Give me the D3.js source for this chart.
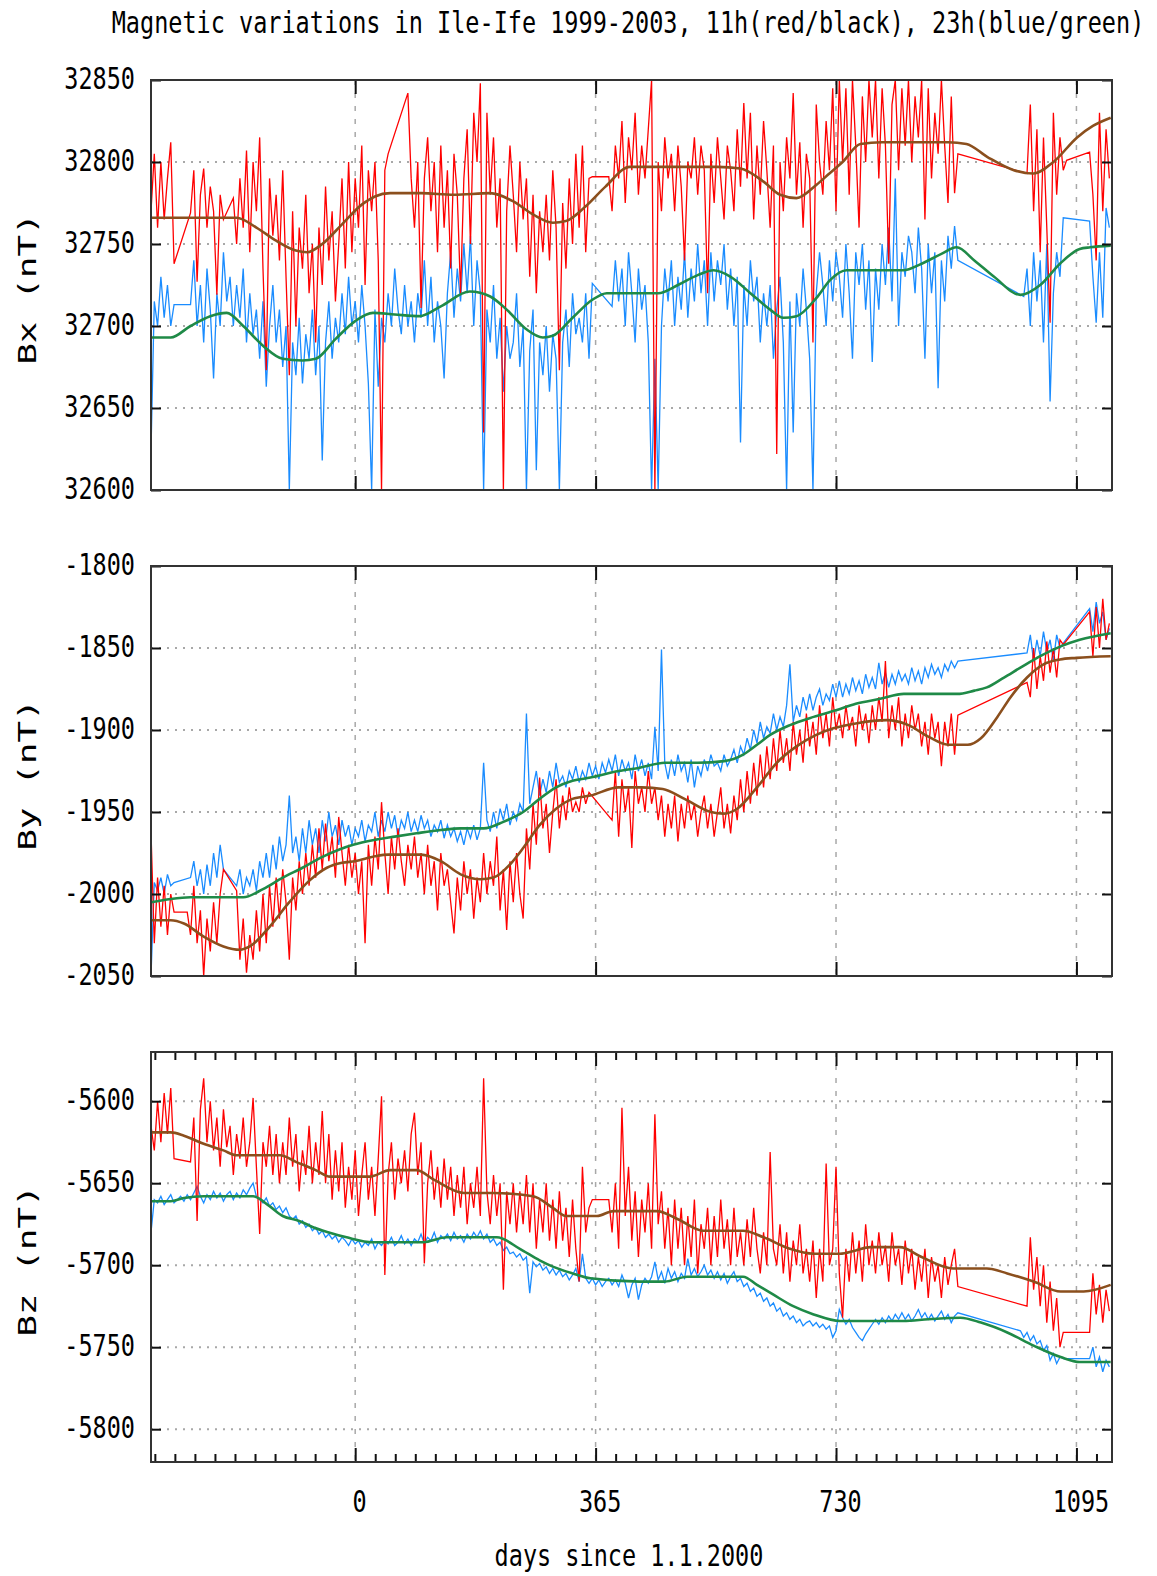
<!DOCTYPE html>
<html>
<head>
<meta charset="utf-8">
<script src="https://cdn.jsdelivr.net/npm/d3@7"></script>
<style>
  body { margin: 0; background: #fff; }
  text { font-family: "DejaVu Sans Mono", monospace; fill: #000; }
</style>
</head>
<body>
<script>
// daily series are sampled on a 5 day grid, days since 1.1.2000 (null = no data)
var dayStart = -310, dayStep = 5;

// Bx 11h (red)
var bx11 = [
  32770, 32805, 32760, 32800, 32765, 32790, 32812, 32738, null, null,     // -310
  null, null, 32769, 32795, 32727, 32780, 32796, 32760, 32785, 32770,     // -260
  32719, 32780, 32765, null, null, 32778, 32750, 32790, 32760, 32807,     // -210
  32745, 32800, 32770, 32815, 32735, 32673, 32790, 32755, 32780, 32740,   // -160
  32795, 32730, 32670, 32770, 32700, 32760, 32735, 32780, 32720, 32750,   // -110
  32690, 32760, 32725, 32785, 32740, 32770, 32715, 32750, 32790, 32735,   // -60
  32800, 32745, 32790, 32760, 32810, 32725, 32795, 32770, 32800, 32740,   // -10
  32600, 32795, 32805, null, null, null, null, null, 32842, 32790,        // 40
  32760, 32800, 32711, 32790, 32815, 32770, 32800, 32745, 32810, 32760,   // 90
  32795, 32735, 32805, 32780, 32720, 32790, 32820, 32750, 32830, 32800,   // 140
  32848, 32635, 32830, 32780, 32815, 32760, 32790, 32600, 32770, 32810,   // 190
  32780, 32745, 32800, 32765, 32790, 32730, 32780, 32720, 32770, 32745,   // 240
  32780, 32740, 32795, 32760, 32673, 32775, 32735, 32790, 32750, 32805,   // 290
  32760, 32810, 32745, 32790, 32791, null, null, null, null, 32791,       // 340
  32770, 32810, 32790, 32825, 32775, 32815, 32795, 32830, 32780, 32810,   // 390
  32790, 32820, 32850, 32600, 32800, 32770, 32815, 32790, 32805, 32770,   // 440
  32810, 32785, 32740, 32800, 32790, 32815, 32780, 32810, 32795, 32720,   // 490
  32805, 32775, 32815, 32790, 32765, 32810, 32795, 32770, 32820, 32785,   // 540
  32836, 32790, 32830, 32765, 32810, 32780, 32825, 32795, 32760, 32810,   // 590
  32622, 32800, 32770, 32815, 32790, 32842, 32780, 32812, 32760, 32805,   // 640
  32790, 32690, 32835, 32800, 32780, 32825, 32795, 32845, 32770, 32850,   // 690
  32800, 32845, 32780, 32850, 32810, 32760, 32840, 32800, 32850, 32815,   // 740
  32850, 32790, 32845, 32810, 32738, 32835, 32850, 32795, 32845, 32810,   // 790
  32850, 32800, 32840, 32815, 32850, 32765, 32845, 32790, 32830, 32805,   // 840
  32850, 32810, 32775, 32840, 32781, 32805, null, null, null, null,       // 890
  null, null, null, null, null, null, null, null, null, null,             // 940
  null, null, null, null, null, null, 32793, 32835, 32770, 32820,         // 990
  32745, 32815, 32760, 32702, 32830, 32780, 32815, 32795, 32801, null,    // 1040
  null, null, null, null, null, 32806, 32780, 32740, 32830, 32770,        // 1090
  32820, 32790                                                            // 1140
];

// Bx 23h (blue)
var bx23 = [
  32624, 32715, 32700, 32730, 32705, 32725, 32700, 32713, null, null,
  null, null, 32713, 32740, 32700, 32725, 32690, 32735, 32710, 32668,
  32720, 32700, 32745, 32715, 32730, 32700, 32725, 32705, 32735, 32690,
  32720, 32695, 32710, 32680, 32715, 32663, 32700, 32725, 32690, 32710,
  32675, 32700, 32600, 32690, 32670, 32705, 32665, 32695, 32680, 32710,
  32670, 32700, 32618, 32690, 32715, 32680, 32705, 32690, 32720, 32695,
  32730, 32700, 32715, 32690, 32725, 32700, 32665, 32600, 32710, 32663,
  32705, 32690, 32720, 32700, 32735, 32710, 32695, 32725, 32700, 32715,
  32690, 32720, 32705, 32740, 32700, 32730, 32690, 32715, 32700, 32668,
  32720, 32745, 32705, 32735, 32715, 32750, 32720, 32755, 32700, 32740,
  32720, 32600, 32710, 32690, 32725, 32680, 32705, 32660, 32700, 32680,
  32690, 32720, 32675, 32700, 32600, 32685, 32710, 32612, 32690, 32670,
  32700, 32660, 32695, 32680, 32600, 32690, 32710, 32675, 32720, 32695,
  32705, 32690, 32720, 32680, 32726, null, null, null, null, null,
  32712, 32740, 32715, 32735, 32700, 32745, 32720, 32690, 32735, 32710,
  32725, 32690, 32600, 32680, 32600, 32700, 32735, 32715, 32740, 32700,
  32730, 32710, 32745, 32705, 32735, 32715, 32750, 32720, 32740, 32700,
  32745, 32715, 32740, 32725, 32750, 32710, 32735, 32700, 32730, 32629,
  32725, 32700, 32740, 32715, 32730, 32690, 32720, 32700, 32725, 32680,
  32710, 32730, 32690, 32600, 32715, 32635, 32720, 32700, 32735, 32710,
  32680, 32600, 32720, 32745, 32725, 32700, 32740, 32715, 32745, 32730,
  32705, 32750, 32720, 32680, 32745, 32725, 32750, 32710, 32740, 32678,
  32735, 32710, 32750, 32725, 32760, 32715, 32790, 32700, 32745, 32730,
  32755, 32745, 32720, 32760, 32735, 32680, 32750, 32720, 32745, 32662,
  32740, 32715, 32755, 32735, 32761, 32740, null, null, null, null,
  null, null, null, null, null, null, null, null, null, null,
  null, null, null, null, null, 32718, 32735, 32700, 32745, 32715,
  32740, 32690, 32750, 32654, 32720, 32745, 32730, 32766, null, null,
  null, null, null, null, null, 32764, 32730, 32702, 32745, 32705,
  32772, 32760
];

// By 11h (red)
var by11 = [
  -1962, -2030, -1990, -2020, -1995, -2025, -2000, -2011, null, null,
  null, -2011, -2025, -1995, -2030, -2010, -2050, -2015, -2035, -2005,
  -2030, -2000, -1985, null, null, null, -1998, -2040, -2015, -2048,
  -2025, -2040, -2010, -2035, -2000, -2030, -1995, -2020, -1990, -2015,
  -1985, -2005, -2040, -1990, -2010, -1980, -2000, -1975, -1995, -1970,
  -1990, -1960, -1985, -1957, -1980, -1965, -1990, -1953, -1975, -1995,
  -1970, -1990, -1975, -2000, -1980, -2030, -1970, -1995, -1965, -1985,
  -1944, -1975, -2000, -1965, -1985, -1960, -1980, -1995, -1970, -1985,
  -1965, -1990, -1975, -2000, -1970, -1995, -1980, -2010, -1975, -1995,
  -1985, -2005, -2024, -1990, -2010, -1980, -2000, -1985, -2015, -1990,
  -2005, -1975, -2000, -1980, -1995, -1965, -2010, -1985, -2022, -1980,
  -2005, -1975, -2000, -2015, -1960, -1985, -1945, -1970, -1929, -1960,
  -1945, -1975, -1950, -1930, -1960, -1940, -1955, -1935, -1950, -1944,
  -1950, -1935, -1945, -1938, null, null, null, null, null, null,
  -1955, -1925, -1965, -1930, -1950, -1935, -1972, -1925, -1945, -1935,
  -1950, -1925, -1945, -1935, -1955, -1940, -1965, -1945, -1960, -1940,
  -1968, -1945, -1960, -1940, -1955, -1945, -1965, -1950, -1940, -1960,
  -1945, -1965, -1950, -1935, -1960, -1945, -1963, -1940, -1955, -1930,
  -1950, -1925, -1945, -1920, -1940, -1915, -1935, -1910, -1930, -1905,
  -1925, -1900, -1920, -1905, -1925, -1895, -1915, -1900, -1920, -1890,
  -1910, -1895, -1915, -1885, -1905, -1890, -1910, -1880, -1900, -1890,
  -1905, -1885, -1900, -1892, -1910, -1885, -1900, -1890, -1908, -1885,
  -1900, -1880, -1895, -1858, -1905, -1885, -1900, -1880, -1910, -1890,
  -1905, -1885, -1900, -1890, -1910, -1895, -1915, -1890, -1905, -1895,
  -1922, -1895, -1910, -1890, -1915, -1891, null, null, null, null,
  null, null, null, null, null, null, null, null, null, null,
  null, null, null, null, null, null, -1871, -1880, -1850, -1875,
  -1855, -1870, -1846, -1865, -1850, -1868, -1845, -1848, null, null,
  null, null, null, null, null, -1828, -1855, -1825, -1850, -1820,
  -1845, -1835
];

// By 23h (blue)
var by23 = [
  -2050, -1993, -1998, -1990, -2000, -1988, -1995, -1993, null, null,
  null, null, -1990, -1980, -1995, -1985, -2000, -1982, -1995, -1975,
  -1990, -1970, -1985, null, null, null, -1995, -1985, -2000, -1990,
  -1995, -1985, -1998, -1980, -1990, -1975, -1990, -1970, -1985, -1965,
  -1980, -1970, -1940, -1975, -1965, -1980, -1960, -1975, -1955, -1970,
  -1960, -1975, -1955, -1968, -1950, -1965, -1958, -1970, -1955, -1965,
  -1958, -1970, -1960, -1965, -1955, -1968, -1958, -1962, -1950, -1965,
  -1955, -1962, -1950, -1960, -1952, -1965, -1955, -1960, -1950, -1962,
  -1955, -1962, -1952, -1960, -1955, -1965, -1958, -1962, -1955, -1966,
  -1958, -1965, -1960, -1968, -1962, -1970, -1960, -1966, -1958, -1967,
  -1960, -1920, -1955, -1962, -1950, -1960, -1948, -1955, -1945, -1958,
  -1950, -1955, -1945, -1950, -1890, -1945, -1935, -1925, -1940, -1930,
  -1938, -1925, -1935, -1920, -1932, -1928, -1935, -1925, -1930, -1922,
  -1932, -1925, -1930, -1920, -1928, -1922, -1930, -1920, -1926, -1918,
  -1925, -1915, -1928, -1918, -1925, -1920, -1930, -1915, -1925, -1918,
  -1928, -1920, -1930, -1898, -1925, -1851, -1920, -1930, -1918, -1928,
  -1915, -1925, -1920, -1932, -1918, -1935, -1922, -1928, -1918, -1925,
  -1915, -1922, -1920, -1925, -1915, -1922, -1918, -1912, -1920, -1910,
  -1915, -1905, -1912, -1900, -1908, -1895, -1905, -1898, -1902, -1890,
  -1900, -1892, -1898, -1885, -1860, -1895, -1885, -1892, -1880, -1888,
  -1878, -1888, -1880, -1875, -1885, -1878, -1882, -1872, -1880, -1870,
  -1880, -1872, -1878, -1868, -1876, -1870, -1878, -1866, -1874, -1868,
  -1875, -1859, -1872, -1865, -1874, -1866, -1872, -1864, -1870, -1866,
  -1872, -1862, -1870, -1864, -1872, -1862, -1868, -1860, -1866, -1862,
  -1868, -1860, -1864, -1858, -1862, -1858, null, null, null, null,
  null, null, null, null, null, null, null, null, null, null,
  null, null, null, null, null, null, -1853, -1842, -1858, -1845,
  -1855, -1840, -1852, -1845, -1858, -1842, -1850, -1847, null, null,
  null, null, null, null, null, -1826, -1840, -1822, -1835, -1828,
  -1845, -1838
];

// Bz 11h (red)
var bz11 = [
  -5615, -5630, -5600, -5625, -5595, -5620, -5592, -5635, null, null,
  null, null, -5637, -5610, -5673, -5605, -5586, -5625, -5600, -5630,
  -5610, -5640, -5605, -5628, -5615, -5645, -5620, -5635, -5610, -5640,
  -5625, -5598, -5640, -5681, -5625, -5640, -5615, -5645, -5620, -5650,
  -5625, -5645, -5610, -5640, -5620, -5655, -5630, -5645, -5615, -5650,
  -5625, -5645, -5606, -5650, -5620, -5660, -5630, -5655, -5625, -5665,
  -5640, -5660, -5630, -5670, -5645, -5625, -5660, -5640, -5670, -5635,
  -5597, -5706, -5645, -5625, -5660, -5635, -5650, -5630, -5655, -5620,
  -5607, -5645, -5625, -5699, -5650, -5630, -5660, -5640, -5665, -5635,
  -5660, -5640, -5670, -5645, -5665, -5640, -5675, -5650, -5665, -5640,
  -5670, -5586, -5655, -5675, -5645, -5670, -5650, -5715, -5655, -5675,
  -5650, -5680, -5655, -5675, -5645, -5680, -5650, -5690, -5660, -5680,
  -5650, -5685, -5660, -5690, -5655, -5685, -5665, -5695, -5660, -5690,
  -5710, -5640, -5680, -5665, -5660, null, null, null, null, -5660,
  -5680, -5650, -5690, -5604, -5670, -5640, -5685, -5655, -5695, -5660,
  -5680, -5650, -5690, -5608, -5675, -5655, -5690, -5665, -5700, -5660,
  -5690, -5665, -5700, -5670, -5695, -5660, -5705, -5675, -5690, -5665,
  -5700, -5670, -5695, -5660, -5690, -5672, -5700, -5665, -5695, -5680,
  -5700, -5672, -5695, -5665, -5690, -5705, -5680, -5700, -5631, -5690,
  -5700, -5675, -5705, -5680, -5710, -5685, -5700, -5675, -5705, -5690,
  -5710, -5685, -5720, -5690, -5710, -5638, -5700, -5690, -5640, -5705,
  -5732, -5690, -5710, -5680, -5705, -5685, -5710, -5675, -5700, -5685,
  -5705, -5680, -5700, -5688, -5710, -5680, -5700, -5690, -5712, -5685,
  -5705, -5690, -5715, -5695, -5710, -5690, -5720, -5695, -5710, -5700,
  -5720, -5695, -5712, -5700, -5690, -5713, null, null, null, null,
  null, null, null, null, null, null, null, null, null, null,
  null, null, null, null, null, null, -5725, -5683, -5715, -5695,
  -5725, -5700, -5735, -5710, -5740, -5720, -5750, -5741, null, null,
  null, null, null, null, null, -5741, -5705, -5730, -5712, -5735,
  -5715, -5728
];

// Bz 23h (blue)
var bz23 = [
  -5680, -5660, -5662, -5658, -5663, -5660, -5657, -5662, -5660, -5658,
  -5661, -5657, -5660, -5656, -5652, -5658, -5662, -5657, -5660, -5655,
  -5659, -5656, -5661, -5657, -5655, -5660, -5656, -5659, -5654, -5657,
  -5653, -5650, -5658, -5660, -5662, -5659, -5664, -5662, -5666, -5664,
  -5668, -5665, -5670, -5672, -5670, -5675, -5673, -5677, -5675, -5679,
  -5677, -5681, -5679, -5683, -5681, -5684, -5682, -5686, -5683, -5685,
  -5688, -5684, -5687, -5685, -5689, -5686, -5688, -5684, -5690, -5686,
  -5688, -5685, -5687, -5683, -5688, -5686, -5682, -5687, -5684, -5688,
  -5684, -5686, -5681, -5687, -5683, -5685, -5680, -5686, -5682, -5684,
  -5681, -5685, -5680, -5684, -5682, -5686, -5681, -5684, -5680, -5683,
  -5679, -5684, -5681, -5686, -5684, -5688, -5686, -5691, -5689, -5693,
  -5692, -5695, -5693, -5697, -5695, -5717, -5698, -5701, -5699, -5703,
  -5701, -5705, -5702, -5706, -5703, -5707, -5705, -5709, -5706, -5702,
  -5710, -5693, -5708, -5711, -5708, -5712, -5709, -5713, -5710, -5708,
  -5712, -5709, -5713, -5706, -5711, -5720, -5712, -5708, -5721, -5712,
  -5708, -5711, -5707, -5698, -5709, -5704, -5711, -5702, -5708, -5704,
  -5710, -5705, -5708, -5696, -5706, -5702, -5707, -5704, -5700, -5706,
  -5703, -5708, -5704, -5709, -5705, -5711, -5707, -5704, -5710, -5708,
  -5713, -5711, -5716, -5714, -5719, -5717, -5722, -5720, -5725, -5723,
  -5728, -5726, -5731, -5729, -5733, -5731, -5735, -5733, -5737, -5735,
  -5734, -5737, -5735, -5738, -5736, -5739, -5737, -5744, -5740, -5727,
  -5732, -5736, -5733, -5738, -5741, -5744, -5746, -5742, -5739, -5736,
  -5733, -5736, -5732, -5735, -5731, -5734, -5730, -5733, -5729, -5733,
  -5730, -5734, -5731, -5727, -5732, -5729, -5733, -5730, -5734, -5731,
  -5728, -5733, -5730, -5735, -5731, -5729, null, null, null, null,
  null, null, null, null, null, null, null, null, null, null,
  null, null, null, null, -5740, -5744, -5741, -5746, -5743, -5748,
  -5746, -5752, -5749, -5758, -5754, -5760, -5756, -5757, null, null,
  null, null, null, null, null, -5757, -5750, -5762, -5756, -5765,
  -5758, -5762
];

// smoothed curves [day, value]
var bxBrown = [[-310,32766],[-260,32766],[-220,32766],[-180,32766],[-150,32760],[-120,32752],[-90,32746],[-73,32745],
  [-50,32750],[-20,32762],[10,32774],[30,32779],[53,32781],[100,32781],[150,32780],[205,32781],[240,32776],[270,32768],
  [300,32763],[320,32764],[350,32773],[380,32785],[417,32797],[450,32797],[500,32797],[550,32797],[585,32796],[620,32788],
  [645,32780],[670,32778],[700,32786],[720,32793],[740,32800],[767,32811],[800,32812],[850,32812],[900,32812],[928,32811],
  [960,32803],[1000,32795],[1030,32793],[1060,32800],[1096,32815],[1120,32822],[1147,32827]];
var bxGreen = [[-310,32693],[-280,32693],[-250,32700],[-220,32706],[-195,32708],[-170,32700],[-140,32688],[-110,32680],
  [-80,32679],[-60,32680],[-30,32692],[0,32703],[27,32708],[60,32707],[98,32706],[130,32712],[174,32721],[205,32718],
  [230,32710],[260,32698],[285,32693],[300,32694],[330,32705],[360,32716],[382,32720],[420,32720],[460,32720],[490,32725],
  [520,32731],[544,32734],[570,32730],[600,32720],[630,32710],[650,32705],[670,32706],[700,32717],[721,32728],[746,32734],
  [780,32734],[832,32734],[860,32738],[890,32744],[913,32748],[940,32740],[970,32730],[1010,32719],[1040,32725],
  [1070,32738],[1100,32747],[1116,32748],[1147,32749]];
var byBrown = [[-310,-2016],[-280,-2016],[-260,-2018],[-230,-2026],[-200,-2032],[-175,-2034],[-160,-2032],[-130,-2020],
  [-100,-2005],[-70,-1992],[-43,-1984],[-20,-1981],[0,-1980],[30,-1977],[50,-1976],[100,-1976],[130,-1980],[160,-1988],
  [190,-1991],[210,-1990],[235,-1982],[255,-1972],[280,-1958],[305,-1948],[330,-1942],[357,-1940],[400,-1935],[435,-1935],
  [467,-1936],[500,-1942],[540,-1950],[560,-1951],[580,-1948],[610,-1935],[640,-1920],[670,-1910],[700,-1903],[726,-1899],
  [760,-1896],[807,-1894],[840,-1897],[870,-1904],[900,-1909],[930,-1909],[950,-1905],[975,-1892],[995,-1880],
  [1020,-1868],[1045,-1860],[1070,-1857],[1095,-1856],[1147,-1855]];
var byGreen = [[-310,-2005],[-280,-2003],[-250,-2002],[-200,-2002],[-170,-2002],[-140,-1997],[-110,-1990],[-80,-1984],
  [-53,-1978],[-25,-1973],[-3,-1970],[30,-1967],[60,-1965],[93,-1963],[130,-1961],[160,-1960],[195,-1960],[225,-1956],
  [255,-1950],[280,-1942],[305,-1935],[330,-1931],[357,-1929],[400,-1925],[432,-1923],[470,-1920],[520,-1920],[560,-1919],
  [589,-1915],[610,-1909],[630,-1903],[660,-1897],[696,-1892],[730,-1888],[760,-1884],[797,-1881],[833,-1878],[870,-1878],
  [914,-1878],[940,-1876],[959,-1874],[985,-1868],[1010,-1862],[1040,-1855],[1071,-1849],[1100,-1845],[1147,-1841]];
var bzBrown = [[-310,-5619],[-280,-5619],[-260,-5621],[-230,-5626],[-200,-5630],[-180,-5633],[-114,-5633],[-90,-5637],
  [-60,-5642],[-38,-5646],[22,-5646],[53,-5642],[93,-5642],[120,-5648],[165,-5656],[210,-5656],[270,-5658],[300,-5665],
  [320,-5670],[367,-5670],[392,-5667],[432,-5667],[458,-5667],[490,-5672],[528,-5679],[589,-5679],[620,-5683],[660,-5690],
  [696,-5693],[736,-5693],[760,-5691],[782,-5689],[827,-5689],[860,-5695],[908,-5702],[959,-5702],[990,-5705],
  [1030,-5710],[1071,-5716],[1106,-5716],[1147,-5712]];
var bzGreen = [[-310,-5661],[-280,-5661],[-260,-5659],[-230,-5658],[-155,-5658],[-130,-5664],[-110,-5670],[-85,-5673],
  [-63,-5677],[-40,-5680],[-13,-5683],[27,-5686],[103,-5686],[139,-5683],[215,-5683],[250,-5690],[280,-5697],[301,-5701],
  [330,-5705],[357,-5708],[432,-5710],[470,-5710],[504,-5707],[589,-5707],[610,-5712],[635,-5718],[665,-5725],[696,-5730],
  [736,-5734],[832,-5734],[870,-5733],[919,-5732],[950,-5735],[990,-5741],[1030,-5749],[1071,-5756],[1100,-5759],[1147,-5759]];

// ticks
var dayTicks = [0, 365, 730, 1095];
var bxTicks = [32600, 32650, 32700, 32750, 32800, 32850];
var byTicks = [-2050, -2000, -1950, -1900, -1850, -1800];
var bzTicks = [-5800, -5750, -5700, -5650, -5600];

var W = 1157, H = 1576;
var left = 151, right = 1112, panelH = 410;
var fontMono = "'DejaVu Sans Mono', monospace";

var panels = [
  {name: "Bx (nT)", top: 80,   domain: [32600, 32850], ticks: bxTicks, s11: bx11, s23: bx23, f11: bxBrown, f23: bxGreen},
  {name: "By (nT)", top: 566,  domain: [-2050, -1800], ticks: byTicks, s11: by11, s23: by23, f11: byBrown, f23: byGreen},
  {name: "Bz (nT)", top: 1052, domain: [-5820, -5570], ticks: bzTicks, s11: bz11, s23: bz23, f11: bzBrown, f23: bzGreen}
];

var svg = d3.select("body").append("svg")
    .attr("width", W)
    .attr("height", H)
    .style("display", "block")
    .style("background", "#fff");

var x = d3.scaleLinear().domain([-310, 1149]).range([left, right]);

function toPoints(vals) {
  return vals.map(function (v, i) { return [dayStart + i * dayStep, v]; })
             .filter(function (d) { return d[1] !== null; });
}

// title
svg.append("text")
    .attr("transform", "translate(628,24) scale(1,1.25)")
    .attr("dy", "0.29em")
    .attr("text-anchor", "middle")
    .style("font-size", "23.5px")
    .text("Magnetic variations in Ile-Ife 1999-2003, 11h(red/black), 23h(blue/green)");

function styleAxis(g) {
  g.select(".domain").remove();
  g.selectAll(".tick line").attr("stroke", "#111").attr("stroke-width", 2);
  g.selectAll("text").remove();
}

panels.forEach(function (p, pi) {
  var y = d3.scaleLinear().domain(p.domain).range([p.top + panelH, p.top]);
  var g = svg.append("g");

  var clipId = "clip" + pi;
  svg.append("clipPath").attr("id", clipId)
    .append("rect").attr("x", left).attr("y", p.top).attr("width", right - left).attr("height", panelH);

  // grid
  g.append("g").selectAll("line")
    .data(p.ticks.filter(function (t) { return t > p.domain[0] && t < p.domain[1]; }))
    .enter().append("line")
    .attr("x1", left).attr("x2", right)
    .attr("y1", function (d) { return y(d); }).attr("y2", function (d) { return y(d); })
    .attr("stroke", "#a8a8a8").attr("stroke-width", 2).attr("stroke-dasharray", "2,6");
  g.append("g").selectAll("line")
    .data(dayTicks)
    .enter().append("line")
    .attr("x1", function (d) { return x(d); }).attr("x2", function (d) { return x(d); })
    .attr("y1", p.top).attr("y2", p.top + panelH)
    .attr("stroke", "#a8a8a8").attr("stroke-width", 1.5).attr("stroke-dasharray", "5,8");

  // data
  var line = d3.line().x(function (d) { return x(d[0]); }).y(function (d) { return y(d[1]); });
  var smooth = d3.line().curve(d3.curveMonotoneX).x(function (d) { return x(d[0]); }).y(function (d) { return y(d[1]); });
  var plot = g.append("g").attr("clip-path", "url(#" + clipId + ")");
  plot.append("path").datum(toPoints(p.s23)).attr("d", line)
    .attr("fill", "none").attr("stroke", "#1a8cff").attr("stroke-width", 1.3);
  plot.append("path").datum(toPoints(p.s11)).attr("d", line)
    .attr("fill", "none").attr("stroke", "#ff0000").attr("stroke-width", 1.3);
  plot.append("path").datum(p.f23).attr("d", smooth)
    .attr("fill", "none").attr("stroke", "#1f8a47").attr("stroke-width", 2.6);
  plot.append("path").datum(p.f11).attr("d", smooth)
    .attr("fill", "none").attr("stroke", "#8b4f1d").attr("stroke-width", 2.6);

  // axes, ticks drawn inward
  var yl = g.append("g").attr("transform", "translate(" + left + ",0)")
    .call(d3.axisLeft(y).tickValues(p.ticks).tickSizeInner(-10).tickSizeOuter(0).tickPadding(16)
      .tickFormat(function (d) { return String(d); }));
  yl.select(".domain").remove();
  yl.selectAll(".tick line").attr("stroke", "#111").attr("stroke-width", 2);
  yl.selectAll("text")
    .attr("x", null).attr("dy", "0.28em")
    .attr("transform", "translate(-16,0) scale(1,1.3)")
    .attr("fill", "#000")
    .style("font-family", fontMono).style("font-size", "23.5px");

  g.append("g").attr("transform", "translate(" + right + ",0)")
    .call(d3.axisRight(y).tickValues(p.ticks).tickSizeInner(-10).tickSizeOuter(0))
    .call(styleAxis);

  g.append("g").attr("transform", "translate(0," + p.top + ")")
    .call(d3.axisTop(x).tickValues(dayTicks).tickSizeInner(-14).tickSizeOuter(0))
    .call(styleAxis);

  var xb = g.append("g").attr("transform", "translate(0," + (p.top + panelH) + ")")
    .call(d3.axisBottom(x).tickValues(dayTicks).tickSizeInner(-14).tickSizeOuter(0)
      .tickFormat(function (d) { return String(d); }));
  xb.select(".domain").remove();
  xb.selectAll(".tick line").attr("stroke", "#111").attr("stroke-width", 2);
  if (pi === 2) {
    xb.selectAll("text")
      .attr("y", null).attr("dy", "0.28em")
      .attr("transform", "translate(4,41) scale(1,1.3)")
      .attr("fill", "#000")
      .style("font-family", fontMono).style("font-size", "23.5px");

    // monthly minor ticks
    var months = d3.range(-10, 38).map(function (m) { return m * 365 / 12; })
      .filter(function (d) { return d > -310 && d < 1149 && d % 365 !== 0; });
    g.append("g").attr("transform", "translate(0," + (p.top + panelH) + ")")
      .call(d3.axisBottom(x).tickValues(months).tickSizeInner(-8).tickSizeOuter(0))
      .call(styleAxis);
    g.append("g").attr("transform", "translate(0," + p.top + ")")
      .call(d3.axisTop(x).tickValues(months).tickSizeInner(-8).tickSizeOuter(0))
      .call(styleAxis);
  } else {
    xb.selectAll("text").remove();
  }

  // frame
  g.append("rect")
    .attr("x", left).attr("y", p.top).attr("width", right - left).attr("height", panelH)
    .attr("fill", "none").attr("stroke", "#333").attr("stroke-width", 2);

  // y title
  g.append("text")
    .attr("transform", "translate(27," + (p.top + 209) + ") rotate(-90) scale(1.5,1)")
    .attr("dy", "0.36em")
    .attr("text-anchor", "middle")
    .style("font-size", "24px")
    .text(p.name);
});

// x title
svg.append("text")
  .attr("transform", "translate(629,1557) scale(1,1.25)")
  .attr("dy", "0.29em")
  .attr("text-anchor", "middle")
  .style("font-size", "23.5px")
  .text("days since 1.1.2000");
</script>
</body>
</html>
